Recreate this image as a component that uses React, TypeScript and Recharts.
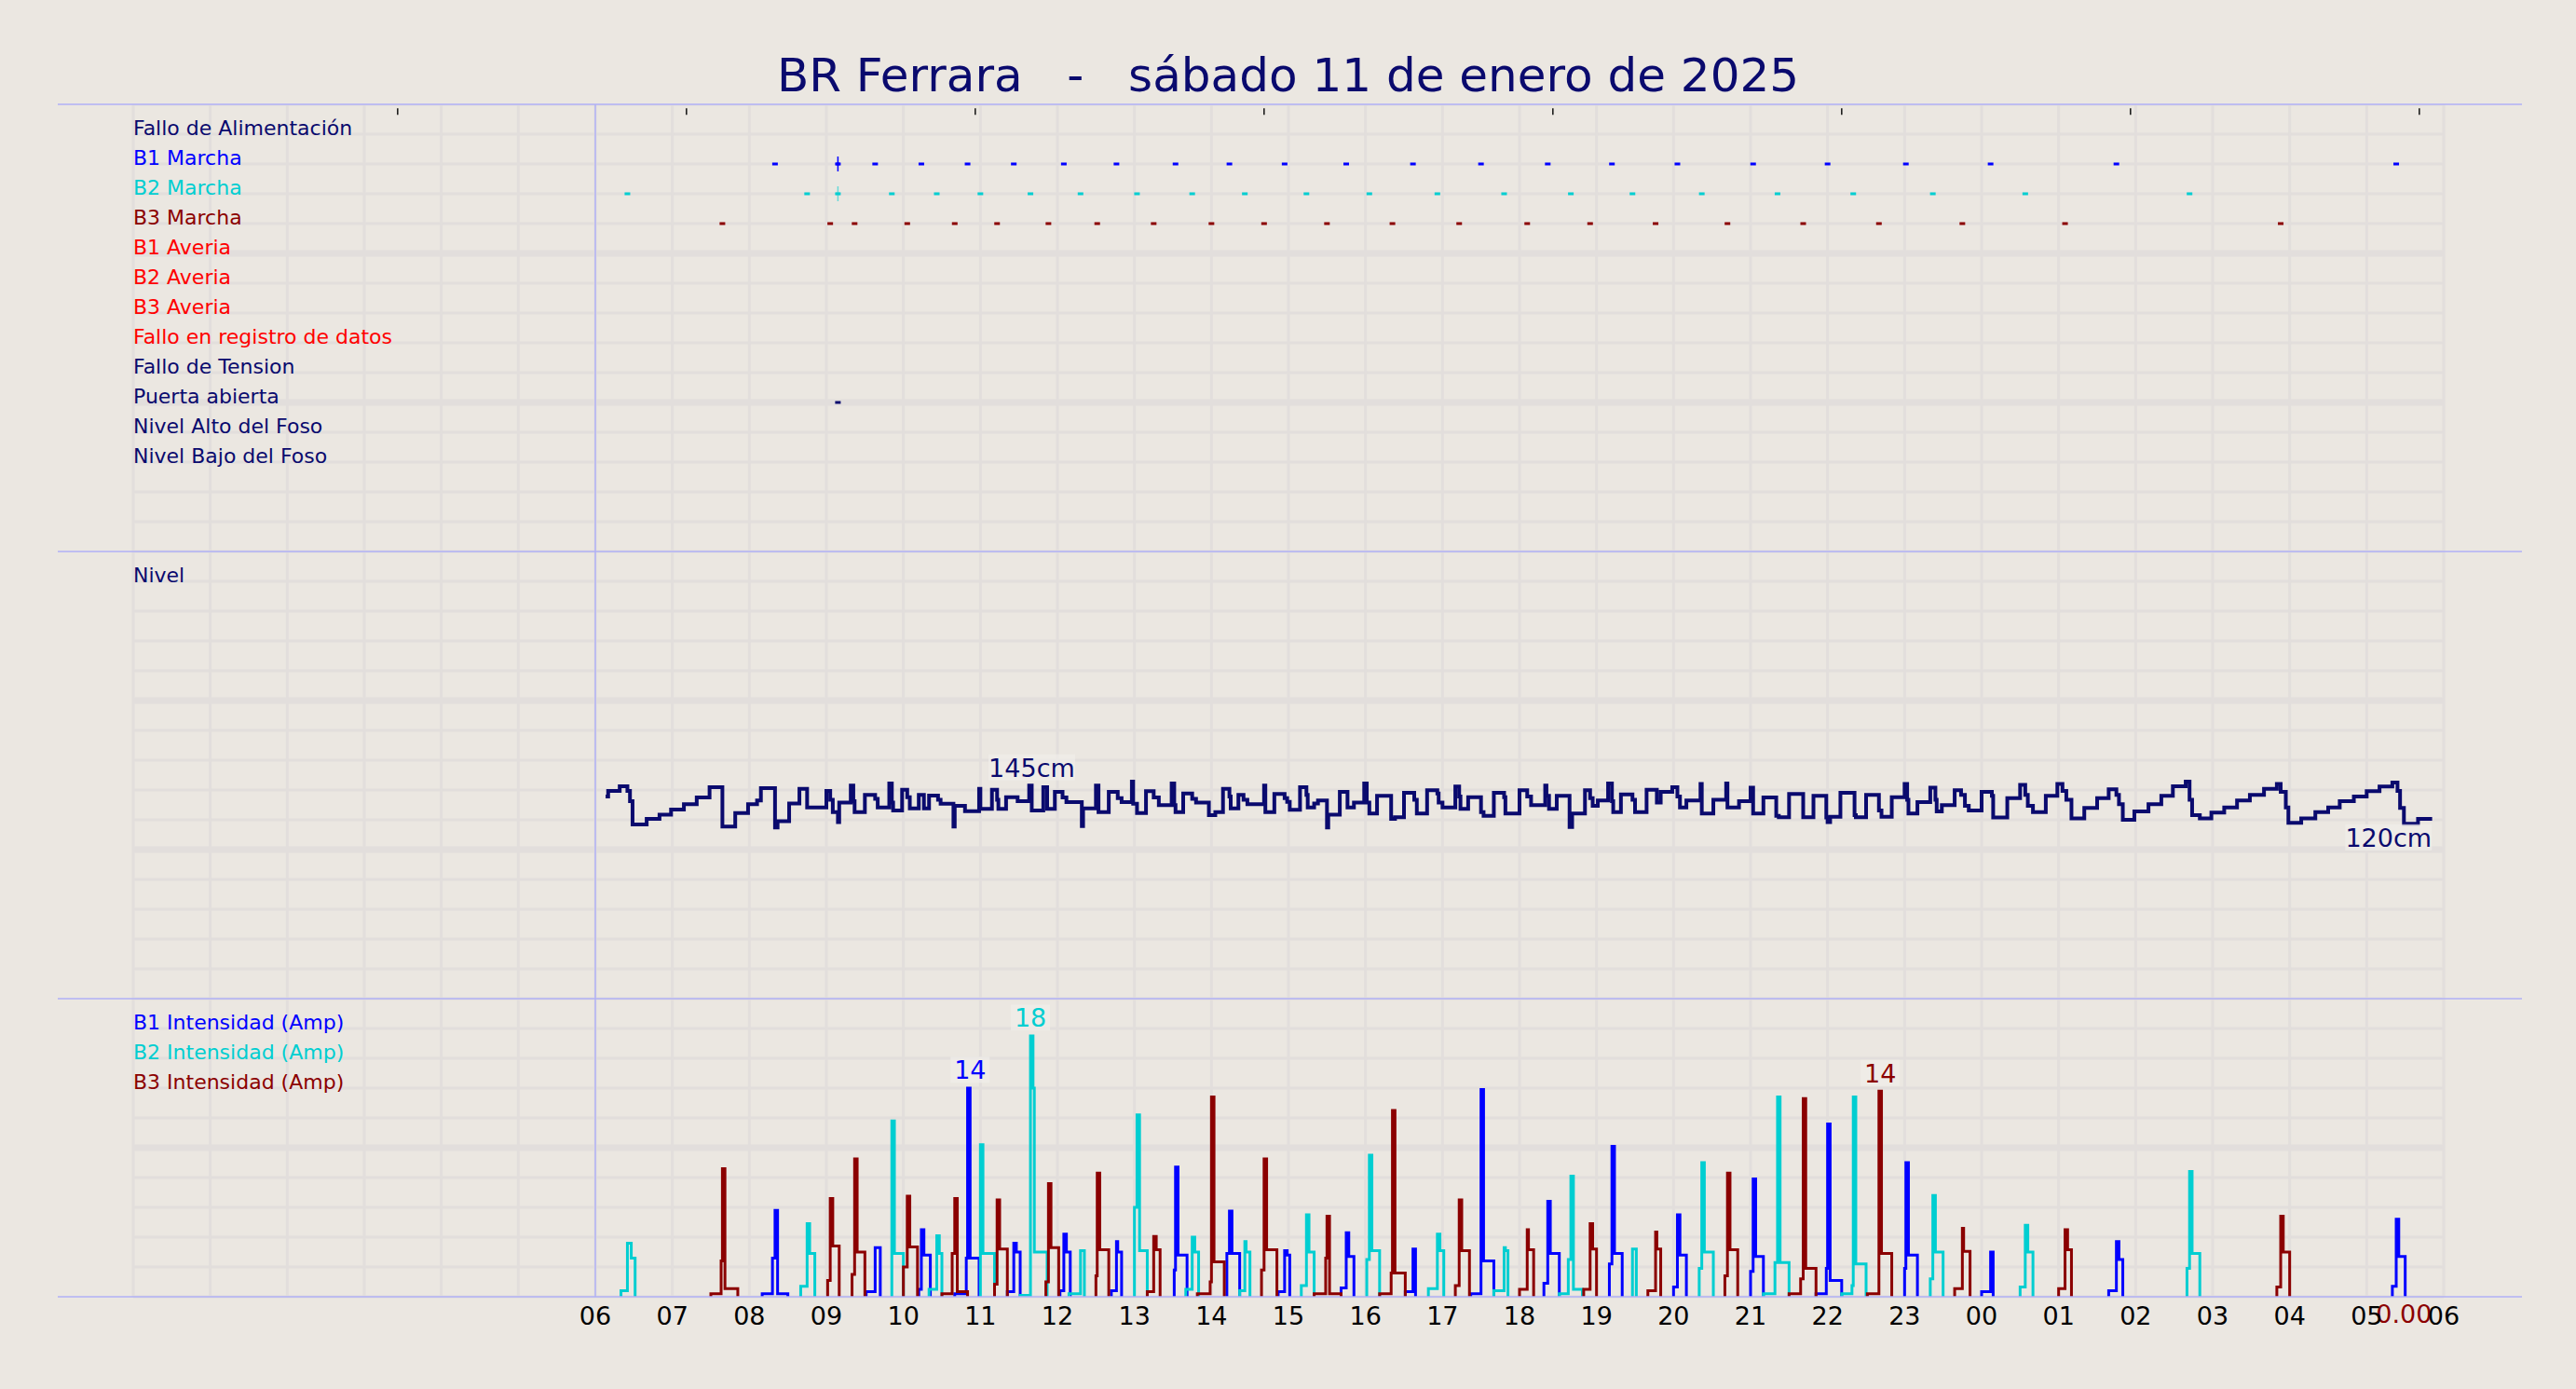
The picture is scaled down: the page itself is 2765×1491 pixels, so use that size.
import React from 'react';
import { ComposedChart, Line, Scatter, XAxis, YAxis, CartesianGrid, ReferenceLine } from 'recharts';

// time axis in minutes from 00:00 of 11/01; the day plotted is 06:00 -> 06:00
const HOUR_TICKS = [0, 60, 120, 180, 240, 300, 360, 420, 480, 540, 600, 660, 720, 780, 840, 900, 960, 1020, 1080, 1140, 1200, 1260, 1320, 1380, 1440, 1500, 1560, 1620, 1680, 1740, 1800];
const HOUR_LABELS = ['', '', '', '', '', '', '06', '07', '08', '09', '10', '11', '12', '13', '14', '15', '16', '17', '18', '19', '20', '21', '22', '23', '00', '01', '02', '03', '04', '05', '06'];
const TOP_TICKS = [206, 431, 656, 881, 1106, 1331, 1556, 1781];
const DAY_START = 360;

const STATUS_LABELS = ['Fallo de Alimentación', 'B1 Marcha', 'B2 Marcha', 'B3 Marcha', 'B1 Averia', 'B2 Averia', 'B3 Averia', 'Fallo en registro de datos', 'Fallo de Tension', 'Puerta abierta', 'Nivel Alto del Foso', 'Nivel Bajo del Foso'];
const STATUS_ROWS = [14, 13, 12, 11, 10, 9, 8, 7, 6, 5, 4, 3];
const STATUS_TICKS = [0, 1, 2, 3, 4, 5, 6, 7, 8, 9, 10, 11, 12, 13, 14, 15];
const DOOR_OPEN = [549];
const GLITCH = [549];

const LEVEL_TICKS = [0, 20, 40, 60, 80, 100, 120, 140, 160, 180, 200, 220, 240, 260, 280, 300];
const AMP_TICKS = [0, 2, 4, 6, 8, 10, 12, 14, 16, 18, 20];
const AMP_LABELS = ['B1 Intensidad (Amp)', 'B2 Intensidad (Amp)', 'B3 Intensidad (Amp)'];
const AMP_LABEL_ROWS = [18, 16, 14];

// level [minute, cm]
const LEVEL = [
  [368, 135.6], [370, 139.4], [379, 142.5], [385, 139.4], [387, 132.5], [389, 116.9], [400, 120.6], [410, 123.5], [419, 126.9], [429, 130.4],
  [439, 135], [449, 141.9], [459, 115.4], [469, 124.6], [479, 130.4], [486, 132.9], [489, 141.3], [500, 114.8], [502, 119], [511, 131],
  [519, 140.8], [525, 128.3], [540, 139.4], [543, 133.5], [545, 125.2], [549, 118.5], [550, 131.5], [559, 142.9], [561, 132.5], [562, 125.2],
  [570, 136.7], [578, 134], [580, 128.3], [589, 144.4], [591, 131.5], [592, 126.3], [599, 140.2], [603, 135.2], [605, 127.7], [612, 136.7],
  [616, 127.7], [620, 136.3], [627, 133.5], [629, 130.8], [639, 115.4], [640, 129.4], [648, 125.8], [659, 140.8], [660, 127.3], [669, 140.2],
  [673, 133.5], [674, 127.3], [680, 135.2], [689, 132.5], [698, 142.9], [700, 126.3], [709, 141.9], [712, 127.3], [718, 138.8], [724, 135],
  [727, 131.9], [739, 115.8], [740, 127.7], [750, 142.9], [752, 125.2], [760, 138.8], [767, 134.6], [770, 131.9], [778, 145.6], [779, 130.8],
  [782, 124.6], [789, 139.2], [795, 135], [799, 129.8], [809, 144.4], [811, 129.8], [812, 125.2], [818, 137.7], [825, 134], [828, 131.5],
  [838, 123.1], [843, 125.2], [849, 140.8], [854, 135.6], [855, 127.7], [861, 136.7], [865, 133.5], [868, 130.4], [881, 142.9], [882, 125.2],
  [889, 137.3], [897, 134.6], [899, 132.1], [901, 126.7], [909, 141.9], [914, 136.7], [915, 128.3], [920, 131], [923, 132.9], [930, 114.8],
  [931, 123.5], [940, 138.8], [946, 128.3], [951, 131.5], [959, 144.4], [961, 131.5], [963, 124.2], [969, 136.1], [980, 120.6], [983, 121.7],
  [990, 138.1], [998, 133.5], [1000, 124.2], [1008, 139.8], [1016, 137.7], [1017, 131.5], [1020, 128.3], [1030, 142.3], [1033, 135.6], [1034, 127.3],
  [1040, 135.2], [1050, 125.2], [1052, 122.7], [1060, 138.1], [1068, 135.2], [1069, 124.2], [1080, 139.8], [1086, 135.6], [1089, 129.8], [1100, 142.9],
  [1101, 136.1], [1103, 127.3], [1109, 136.1], [1119, 115.2], [1121, 124.2], [1131, 139.8], [1135, 134.6], [1137, 129.4], [1141, 132.9], [1149, 144.4],
  [1152, 132.5], [1153, 125.2], [1159, 137.1], [1168, 133.5], [1170, 125.2], [1179, 140.2], [1187, 131.5], [1190, 138.8], [1199, 141.9], [1203, 135.6],
  [1205, 128.3], [1210, 132.9], [1221, 144], [1222, 124.2], [1231, 133.5], [1241, 144.4], [1242, 128.3], [1251, 132.5], [1260, 141.5], [1262, 124.2],
  [1270, 135], [1280, 122.7], [1282, 121.7], [1290, 137.3], [1301, 121.7], [1309, 136.1], [1319, 121.5], [1320, 118.5], [1322, 122.1], [1330, 138.1],
  [1341, 123.1], [1342, 121.7], [1350, 136.7], [1360, 126.3], [1362, 122.1], [1370, 135.2], [1380, 144], [1382, 133.5], [1383, 124.2], [1390, 131.9],
  [1400, 141.5], [1404, 133.5], [1405, 125.6], [1409, 129.8], [1419, 139.8], [1424, 136.7], [1427, 129.4], [1430, 126.3], [1440, 138.8], [1448, 136.1],
  [1449, 121.5], [1460, 134.6], [1470, 143.5], [1474, 136.7], [1476, 129.4], [1480, 125.2], [1490, 136.1], [1499, 144], [1503, 139.4], [1506, 133.5],
  [1510, 121], [1520, 127.9], [1530, 134.6], [1539, 140.4], [1545, 136.7], [1547, 130.4], [1550, 120], [1559, 125.6], [1570, 130.4], [1580, 136.1],
  [1589, 142.5], [1599, 145.6], [1602, 133.5], [1604, 123.1], [1610, 121], [1619, 124.8], [1629, 128.3], [1639, 133], [1649, 136.7], [1660, 140.8],
  [1670, 144], [1673, 138.8], [1677, 128.3], [1679, 117.9], [1689, 121], [1700, 125.2], [1710, 128.3], [1719, 132.5], [1730, 135.6], [1740, 139.2],
  [1750, 142.3], [1760, 145], [1764, 139.4], [1766, 127.9], [1769, 117.3], [1780, 120.6], [1791, 120.6],
];
const LEVEL_NOTES = [
  { t: 700, v: 149, text: '145cm' },
  { t: 1757, v: 102, text: '120cm' },
];

// pump runs: steps [minute, amps], each run ends back at 0
const B1_RUNS = [
  [[490, 0.2], [498, 2.6], [500, 5.8], [502, 0.2], [510, 0]],
  [[571, 0.35], [578, 3.3], [582, 0]],
  [[612, 0.5], [614, 4.5], [616, 2.8], [621, 0]],
  [[640, 0.2], [649, 2.6], [650, 14], [652, 2.6], [659, 0]],
  [[681, 0.35], [686, 3.6], [688, 3.0], [691, 0]],
  [[722, 0.4], [725, 4.2], [727, 3.0], [730, 0]],
  [[762, 0.4], [766, 3.7], [767, 3.0], [770, 0]],
  [[811, 1.8], [812, 8.7], [814, 2.8], [821, 0]],
  [[852, 2.9], [854, 5.75], [856, 2.9], [862, 0]],
  [[892, 0.35], [897, 3.1], [899, 2.8], [901, 0]],
  [[941, 0.6], [945, 4.3], [947, 2.7], [951, 0]],
  [[991, 0.35], [997, 3.2], [999, 0]],
  [[1042, 0.2], [1050, 13.9], [1052, 2.4], [1060, 0]],
  [[1099, 0.9], [1102, 6.4], [1104, 2.9], [1111, 0]],
  [[1150, 2.2], [1152, 10.1], [1154, 2.9], [1160, 0]],
  [[1200, 0.65], [1203, 5.5], [1205, 2.8], [1210, 0]],
  [[1260, 1.7], [1262, 7.9], [1264, 2.7], [1270, 0]],
  [[1311, 0.2], [1319, 1.9], [1320, 11.6], [1322, 1.1], [1331, 0]],
  [[1380, 1.9], [1381, 9.0], [1383, 2.8], [1390, 0]],
  [[1440, 0.35], [1447, 3.0], [1449, 0]],
  [[1539, 0.4], [1545, 3.7], [1547, 2.5], [1550, 0]],
  [[1760, 0.7], [1763, 5.2], [1765, 2.7], [1770, 0]],
];
const B2_RUNS = [
  [[380, 0.4], [385, 3.6], [388, 2.6], [391, 0]],
  [[520, 0.7], [525, 4.9], [527, 2.9], [531, 0]],
  [[591, 11.8], [593, 2.9], [600, 0]],
  [[620, 0.5], [626, 4.1], [628, 2.9], [630, 0]],
  [[660, 10.2], [662, 2.9], [671, 0]],
  [[691, 0.1], [699, 17.5], [701, 14], [702, 3.0], [712, 0]],
  [[729, 0.2], [738, 3.1], [741, 0]],
  [[780, 6.0], [782, 12.2], [784, 3.1], [790, 0]],
  [[820, 0.5], [825, 4.0], [827, 3.0], [830, 0]],
  [[862, 0.4], [866, 3.7], [867, 3.0], [870, 0]],
  [[910, 0.75], [914, 5.5], [916, 3.0], [920, 0]],
  [[961, 2.5], [963, 9.5], [965, 3.1], [971, 0]],
  [[1009, 0.55], [1016, 4.2], [1018, 3.1], [1021, 0]],
  [[1060, 0.4], [1068, 3.3], [1069, 3.1], [1071, 0]],
  [[1111, 0.2], [1118, 2.5], [1120, 8.1], [1122, 0.5], [1129, 0]],
  [[1168, 3.2], [1171, 0]],
  [[1220, 1.9], [1222, 9.0], [1224, 3.0], [1231, 0]],
  [[1270, 0.2], [1279, 2.3], [1281, 13.4], [1283, 2.3], [1290, 0]],
  [[1331, 0.2], [1339, 0.75], [1340, 13.4], [1342, 2.2], [1350, 0]],
  [[1400, 1.2], [1402, 6.8], [1404, 3.0], [1410, 0]],
  [[1470, 0.65], [1474, 4.8], [1476, 3.0], [1480, 0]],
  [[1600, 1.9], [1602, 8.4], [1604, 2.9], [1610, 0]],
];
const B3_RUNS = [
  [[450, 0.2], [458, 2.4], [459, 8.6], [461, 0.55], [471, 0]],
  [[541, 1.1], [543, 6.6], [545, 3.4], [550, 0]],
  [[560, 1.5], [562, 9.25], [564, 3.0], [570, 0]],
  [[600, 2.0], [603, 6.75], [605, 3.35], [611, 0]],
  [[630, 0.2], [638, 2.9], [640, 6.6], [642, 0.35], [650, 0]],
  [[671, 0.85], [673, 6.5], [675, 3.2], [681, 0]],
  [[711, 1.0], [713, 7.6], [715, 3.3], [721, 0]],
  [[750, 1.4], [751, 8.3], [753, 3.15], [760, 0]],
  [[790, 0.35], [795, 4.05], [797, 3.15], [800, 0]],
  [[829, 0.2], [839, 1.0], [840, 13.4], [842, 2.35], [850, 0]],
  [[879, 1.8], [881, 9.25], [883, 3.15], [891, 0]],
  [[920, 0.2], [929, 2.6], [930, 5.4], [932, 0.2], [941, 0]],
  [[971, 0.2], [980, 1.6], [981, 12.5], [983, 1.6], [991, 0]],
  [[1030, 0.75], [1033, 6.5], [1035, 3.1], [1041, 0]],
  [[1080, 0.5], [1086, 4.5], [1087, 3.15], [1091, 0]],
  [[1130, 0.5], [1135, 4.9], [1137, 3.2], [1140, 0]],
  [[1180, 0.4], [1186, 4.35], [1187, 3.2], [1190, 0]],
  [[1240, 1.4], [1242, 8.3], [1244, 3.15], [1250, 0]],
  [[1290, 0.2], [1299, 1.2], [1301, 13.3], [1303, 1.9], [1311, 0]],
  [[1351, 0.2], [1360, 13.8], [1362, 2.9], [1370, 0]],
  [[1419, 0.55], [1425, 4.6], [1426, 3.05], [1431, 0]],
  [[1500, 0.55], [1505, 4.5], [1507, 3.15], [1510, 0]],
  [[1670, 0.65], [1673, 5.4], [1675, 3.0], [1680, 0]],
];
const PEAK_NOTES = [
  { t: 652, v: 14.6, text: '14', series: 0 },
  { t: 699, v: 18.1, text: '18', series: 1 },
  { t: 1361, v: 14.4, text: '14', series: 2 },
];
const LAST_B3 = { t: 1769, v: 0, text: '0.00' };

const W = 2765;
const H = 1491;
const FONT = '"DejaVu Sans", Verdana, sans-serif';
const BG = '#ebe7e1';
const GRID = '#e2dedc';
const LAVENDER = '#b0b0f6';
const NAVY = '#0a0a6e';
const BLUE = '#0000ff';
const CYAN = '#00ced1';
const DARKRED = '#8b0000';
const RED = '#ff0000';
const SERIES_COLORS = [BLUE, CYAN, DARKRED];
const STATUS_COLORS = [NAVY, BLUE, CYAN, DARKRED, RED, RED, RED, RED, NAVY, NAVY, NAVY, NAVY];

const PANEL_TOPS = [112, 592, 1072];
const PANEL_H = [480, 480, 320];
const MARGIN = { top: 0, right: 142, bottom: 0, left: 143 };

function runsToSteps(runs) {
  const out = [];
  runs.forEach((run) => {
    out.push({ t: run[0][0], v: 0 });
    run.forEach(([t, v]) => out.push({ t, v }));
    out.push({ t: run[run.length - 1][0] + 0.5, v: null });
  });
  return out;
}

function peakTimes(runs) {
  return runs.map((run) => run.reduce((a, b) => (b[1] > a[1] ? b : a))[0]);
}

const rowText = (p) => (
  <text x={p.cx} y={p.cy + 0.5} fill={p.payload.color} fontSize={22} fontFamily={FONT}>
    {p.payload.text}
  </text>
);

const boxedText = (p) => {
  const w = p.payload.text.length * 17 + 8;
  return (
    <g>
      <rect x={p.cx - w / 2} y={p.cy - 24} width={w} height={28} fill="#f1eeea" opacity={0.7} />
      <text x={p.cx} y={p.cy} fill={p.payload.color} fontSize={27} fontFamily={FONT} textAnchor="middle">
        {p.payload.text}
      </text>
    </g>
  );
};

const markShape = (p) => <rect x={p.cx - 3} y={p.cy - 1.5} width={6} height={3} fill={p.payload.color} />;

const glitchShape = (p) => (
  <g opacity={p.payload.alpha}>
    <line x1={p.cx} x2={p.cx} y1={p.cy - 8} y2={p.cy + 8} stroke={p.payload.color} strokeWidth={1.5} />
    <rect x={p.cx - 2} y={p.cy - 1.5} width={4} height={3} fill={p.payload.color} />
  </g>
);

function Panel({ index, ticks, majors, bottomAxis = false, topTicks = false, children }) {
  const axisH = bottomAxis ? 60 : 0;
  const domain = [ticks[0], ticks[ticks.length - 1]];
  const top = domain[1];
  return (
    <div style={{ position: 'absolute', left: 0, top: PANEL_TOPS[index] }}>
      <ComposedChart width={W} height={PANEL_H[index] + axisH} margin={MARGIN}>
        <CartesianGrid verticalValues={HOUR_TICKS} horizontalValues={ticks} stroke={GRID} strokeWidth={3} />
        <CartesianGrid vertical={false} horizontalValues={majors} stroke={GRID} strokeWidth={7} />
        {bottomAxis ? (
          <XAxis
            type="number"
            dataKey="t"
            domain={[0, 1800]}
            ticks={HOUR_TICKS}
            interval={0}
            height={60}
            axisLine={false}
            tickLine={false}
            tickSize={0}
            tickMargin={11}
            tick={{ fontSize: 27, fill: '#000', fontFamily: FONT }}
            tickFormatter={(v) => HOUR_LABELS[HOUR_TICKS.indexOf(v)]}
          />
        ) : (
          <XAxis type="number" dataKey="t" domain={[0, 1800]} ticks={HOUR_TICKS} hide />
        )}
        <YAxis
          type="number"
          orientation="right"
          domain={domain}
          ticks={ticks}
          interval={0}
          mirror
          width={0}
          axisLine={false}
          tickSize={5}
          tickLine={{ stroke: '#000', strokeWidth: 2 }}
          tickFormatter={() => ''}
        />
        <YAxis
          yAxisId="left"
          type="number"
          orientation="left"
          domain={domain}
          ticks={ticks}
          interval={0}
          mirror
          width={0}
          axisLine={false}
          tickSize={6}
          tickLine={{ stroke: '#000', strokeWidth: 2 }}
          tickFormatter={() => ''}
        />
        <ReferenceLine x={DAY_START} stroke={LAVENDER} strokeWidth={1.5} />
        {topTicks &&
          TOP_TICKS.map((t) => (
            <ReferenceLine
              key={t}
              segment={[{ x: t, y: top - 0.13 }, { x: t, y: top - 0.35 }]}
              stroke="#111"
              strokeWidth={1.5}
            />
          ))}
        {children}
      </ComposedChart>
    </div>
  );
}

export default function App() {
  const statusLabels = STATUS_LABELS.map((text, i) => ({ t: 0, v: STATUS_ROWS[i], text, color: STATUS_COLORS[i] }));
  const runs = [B1_RUNS, B2_RUNS, B3_RUNS];
  const marks = runs.map((r, i) =>
    [...peakTimes(r), ...(i < 2 ? GLITCH : [])].map((t) => ({ t, v: STATUS_ROWS[i + 1], color: SERIES_COLORS[i] }))
  );
  const door = DOOR_OPEN.map((t) => ({ t, v: STATUS_ROWS[9], color: NAVY }));
  const glitches = [
    ...GLITCH.map((t) => ({ t, v: STATUS_ROWS[1], color: BLUE, alpha: 1 })),
    ...GLITCH.map((t) => ({ t, v: STATUS_ROWS[2], color: CYAN, alpha: 0.55 })),
  ];
  const level = LEVEL.map(([t, v]) => ({ t, v }));
  const levelNotes = LEVEL_NOTES.map((n) => ({ ...n, color: NAVY }));
  const ampSteps = runs.map(runsToSteps);
  const ampLabels = AMP_LABELS.map((text, i) => ({ t: 0, v: AMP_LABEL_ROWS[i], text, color: SERIES_COLORS[i] }));
  const peaks = PEAK_NOTES.map((n) => ({ ...n, color: SERIES_COLORS[n.series] }));

  return (
    <div style={{ position: 'absolute', left: 0, top: 0, width: W, height: H, background: BG, fontFamily: FONT, overflow: 'hidden' }}>
      <Panel index={0} ticks={STATUS_TICKS} majors={[5, 10]} topTicks>
        <Scatter data={statusLabels} dataKey="v" shape={rowText} isAnimationActive={false} />
        {marks.map((m, i) => (
          <Scatter key={i} data={m} dataKey="v" shape={markShape} isAnimationActive={false} />
        ))}
        <Scatter data={glitches} dataKey="v" shape={glitchShape} isAnimationActive={false} />
        <Scatter data={door} dataKey="v" shape={markShape} isAnimationActive={false} />
      </Panel>

      <Panel index={1} ticks={LEVEL_TICKS} majors={[100, 200]}>
        <Scatter data={[{ t: 0, v: 280, text: 'Nivel', color: NAVY }]} dataKey="v" shape={rowText} isAnimationActive={false} />
        <Line data={level} dataKey="v" type="stepAfter" stroke={NAVY} strokeWidth={4} dot={false} isAnimationActive={false} />
        <Scatter data={levelNotes} dataKey="v" shape={boxedText} isAnimationActive={false} />
      </Panel>

      <Panel index={2} ticks={AMP_TICKS} majors={[10]} bottomAxis>
        <Scatter data={ampLabels} dataKey="v" shape={rowText} isAnimationActive={false} />
        {ampSteps.map((d, i) => (
          <Line key={i} data={d} dataKey="v" type="stepAfter" stroke={SERIES_COLORS[i]} strokeWidth={3} dot={false} connectNulls={false} isAnimationActive={false} />
        ))}
        <Scatter data={peaks} dataKey="v" shape={boxedText} isAnimationActive={false} />
        <Scatter
          data={[LAST_B3]}
          dataKey="v"
          shape={(p) => (
            <text x={p.cx} y={p.cy + 28} fill={DARKRED} fontSize={27} fontFamily={FONT} textAnchor="middle">
              {p.payload.text}
            </text>
          )}
          isAnimationActive={false}
        />
      </Panel>

      <svg width={W} height={H} style={{ position: 'absolute', left: 0, top: 0, pointerEvents: 'none' }}>
        <text x={W / 2} y={98} textAnchor="middle" fontSize={50} fill={NAVY} fontFamily={FONT} xmlSpace="preserve" style={{ whiteSpace: 'pre' }}>
          BR Ferrara   -   sábado 11 de enero de 2025
        </text>
        {[PANEL_TOPS[0], PANEL_TOPS[1], PANEL_TOPS[2], PANEL_TOPS[2] + PANEL_H[2]].map((y) => (
          <line key={y} x1={62} x2={2707} y1={y} y2={y} stroke={LAVENDER} strokeWidth={1.5} />
        ))}
      </svg>
    </div>
  );
}
